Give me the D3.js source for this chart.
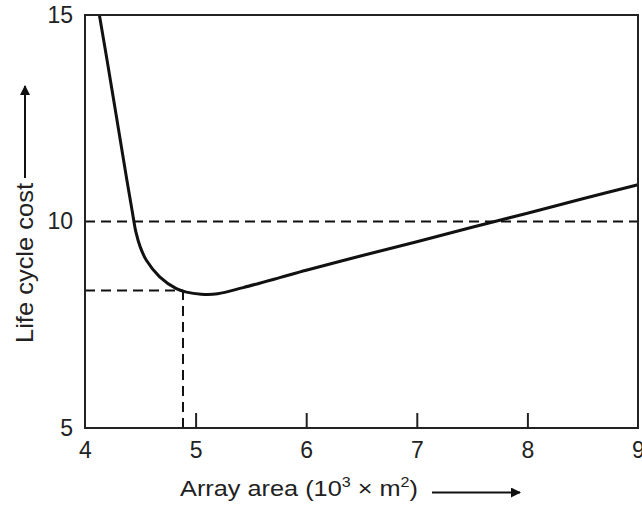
<!DOCTYPE html>
<html>
<head>
<meta charset="utf-8">
<script src="https://cdn.jsdelivr.net/npm/d3@7"></script>
<style>
  html, body { margin: 0; padding: 0; background: #fff; }
  svg { display: block; font-family: Arial, "Liberation Sans", sans-serif; }
</style>
</head>
<body>
<div class="cost-chart"></div>
<script>
// ------------------------------------------------------
const plotWidth = 642;
const plotHeight = 508;
const margin = { top: 15, right: 4, bottom: 80, left: 85 };
// ------------------------------------------------------
// curve: array area (10^3 m^2) vs life cycle cost
const areaValues = [4.13, 4.2, 4.3, 4.38, 4.43, 4.46, 4.5, 4.555, 4.675, 4.826, 4.917, 5.05, 5.2, 5.43, 5.76, 6.0, 6.5, 7.0, 7.5, 8.0, 8.5, 9.0];
const costValues = [15.0, 13.9, 12.28, 10.98, 10.2, 9.75, 9.38, 9.06, 8.66, 8.375, 8.29, 8.24, 8.25, 8.4, 8.64, 8.82, 9.17, 9.51, 9.86, 10.2, 10.55, 10.89];
const xTicks = [4, 5, 6, 7, 8, 9];
const yTicks = [5, 10, 15];
const optimumArea = 4.886;
const optimumCost = 8.33;
const referenceCost = 10;
// ------------------------------------------------------
window.addEventListener( 'load', function () {
    const innerW = plotWidth - margin.left - margin.right;
    const innerH = plotHeight - margin.top - margin.bottom;

    const x = d3.scaleLinear().domain( [ 4, 9 ] ).range( [ margin.left, margin.left + innerW ] );
    const y = d3.scaleLinear().domain( [ 5, 15 ] ).range( [ margin.top + innerH, margin.top ] );

    const svg = d3.select( '.cost-chart' )
        .append( 'svg' )
        .attr( 'width', plotWidth )
        .attr( 'height', plotHeight );

    svg.append( 'defs' ).append( 'marker' )
        .attr( 'id', 'arrow' )
        .attr( 'viewBox', '0 0 10 10' )
        .attr( 'refX', 9 ).attr( 'refY', 5 )
        .attr( 'markerWidth', 5 ).attr( 'markerHeight', 5 )
        .attr( 'markerUnits', 'strokeWidth' )
        .attr( 'orient', 'auto' )
        .append( 'path' )
        .attr( 'd', 'M0,0 L10,5 L0,10 Z' )
        .attr( 'fill', '#111' );

    // --------------------------------------------------
    // dashed guide lines
    const dash = '10,6';
    const guides = [
        [ [ 4, referenceCost ], [ 9, referenceCost ] ],
        [ [ 4, optimumCost ], [ optimumArea, optimumCost ] ],
        [ [ optimumArea, 5 ], [ optimumArea, optimumCost ] ]
    ];
    svg.selectAll( '.guide' )
        .data( guides )
        .enter()
        .append( 'line' )
        .classed( 'guide', true )
        .attr( 'x1', d => x( d[0][0] ) ).attr( 'y1', d => y( d[0][1] ) )
        .attr( 'x2', d => x( d[1][0] ) ).attr( 'y2', d => y( d[1][1] ) )
        .attr( 'stroke', '#111' )
        .attr( 'stroke-width', 2 )
        .attr( 'stroke-dasharray', dash );

    // --------------------------------------------------
    // curve
    const pts = areaValues.map( ( a, i ) => [ a, costValues[i] ] );
    const line = d3.line()
        .x( d => x( d[0] ) )
        .y( d => y( d[1] ) )
        .curve( d3.curveCatmullRom.alpha( 0.5 ) );
    svg.append( 'path' )
        .datum( pts )
        .attr( 'd', line )
        .attr( 'fill', 'none' )
        .attr( 'stroke', '#111' )
        .attr( 'stroke-width', 3 );

    // --------------------------------------------------
    // frame
    svg.append( 'rect' )
        .attr( 'x', x( 4 ) ).attr( 'y', y( 15 ) )
        .attr( 'width', x( 9 ) - x( 4 ) )
        .attr( 'height', y( 5 ) - y( 15 ) )
        .attr( 'fill', 'none' )
        .attr( 'stroke', '#222' )
        .attr( 'stroke-width', 2 );

    // x axis: inward ticks, labels below
    const xAxis = d3.axisBottom( x )
        .tickValues( xTicks )
        .tickSizeInner( -15 )
        .tickSizeOuter( 0 )
        .tickPadding( 14 )
        .tickFormat( d3.format( 'd' ) );
    const gx = svg.append( 'g' )
        .attr( 'transform', 'translate(0,' + y( 5 ) + ')' )
        .call( xAxis );
    gx.select( '.domain' ).remove();
    gx.selectAll( '.tick line' )
        .attr( 'stroke', '#222' ).attr( 'stroke-width', 2 )
        .filter( d => d === 4 || d === 9 ).remove();
    gx.selectAll( '.tick text' )
        .attr( 'font-size', 23 )
        .attr( 'font-family', 'Arial, "Liberation Sans", sans-serif' )
        .attr( 'fill', '#222' );

    // y axis: labels only
    const yAxis = d3.axisLeft( y )
        .tickValues( yTicks )
        .tickSize( 0 )
        .tickPadding( 12 )
        .tickFormat( d3.format( 'd' ) );
    const gy = svg.append( 'g' )
        .attr( 'transform', 'translate(' + x( 4 ) + ',0)' )
        .call( yAxis );
    gy.select( '.domain' ).remove();
    gy.selectAll( '.tick text' )
        .attr( 'font-size', 23 )
        .attr( 'font-family', 'Arial, "Liberation Sans", sans-serif' )
        .attr( 'fill', '#222' );

    // --------------------------------------------------
    // axis titles with arrows
    const xt = svg.append( 'text' )
        .attr( 'x', 180 ).attr( 'y', 496 )
        .attr( 'font-size', 22 )
        .attr( 'fill', '#222' )
        .attr( 'textLength', 238 )
        .attr( 'lengthAdjust', 'spacingAndGlyphs' );
    xt.append( 'tspan' ).text( 'Array area (10' );
    xt.append( 'tspan' ).attr( 'dy', -9 ).attr( 'font-size', 14 ).text( '3' );
    xt.append( 'tspan' ).attr( 'dy', 9 ).text( ' \u00d7 m' );
    xt.append( 'tspan' ).attr( 'dy', -9 ).attr( 'font-size', 14 ).text( '2' );
    xt.append( 'tspan' ).attr( 'dy', 9 ).text( ')' );

    svg.append( 'line' )
        .attr( 'x1', 432 ).attr( 'y1', 492.5 )
        .attr( 'x2', 520 ).attr( 'y2', 492.5 )
        .attr( 'stroke', '#111' ).attr( 'stroke-width', 2 )
        .attr( 'marker-end', 'url(#arrow)' );

    svg.append( 'text' )
        .attr( 'transform', 'translate(33,343) rotate(-90)' )
        .attr( 'font-size', 24 )
        .attr( 'fill', '#222' )
        .attr( 'textLength', 160 )
        .attr( 'lengthAdjust', 'spacingAndGlyphs' )
        .text( 'Life cycle cost' );

    svg.append( 'line' )
        .attr( 'x1', 25 ).attr( 'y1', 178 )
        .attr( 'x2', 25 ).attr( 'y2', 86 )
        .attr( 'stroke', '#111' ).attr( 'stroke-width', 2 )
        .attr( 'marker-end', 'url(#arrow)' );
}, false );
</script>
</body>
</html>
